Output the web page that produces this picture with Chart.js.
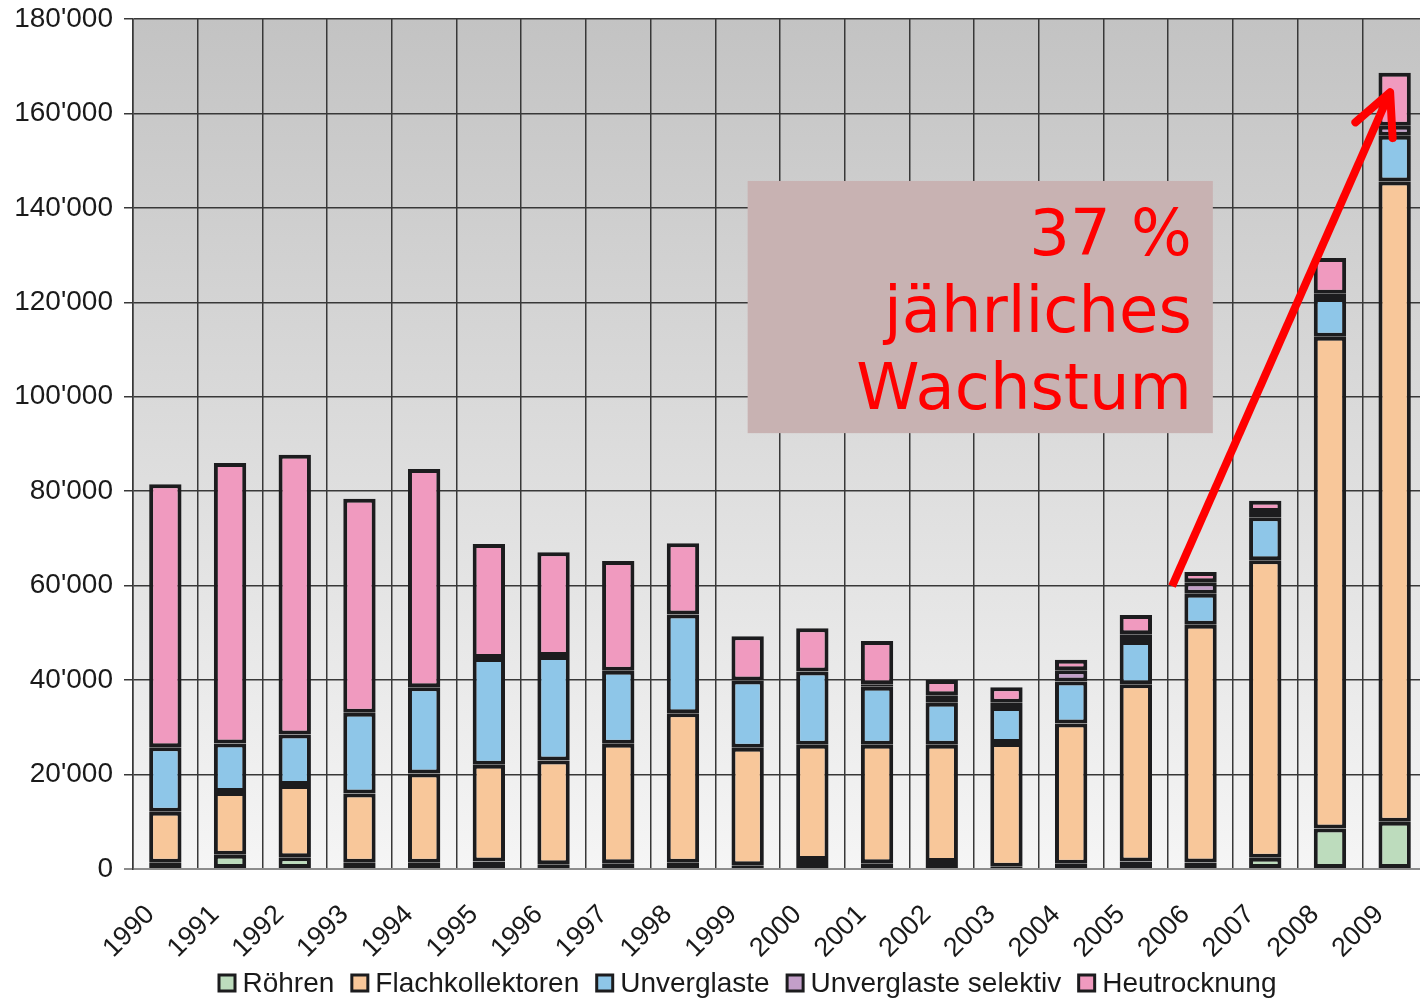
<!DOCTYPE html>
<html>
<head>
<meta charset="utf-8">
<title>Solarkollektoren 1990-2009</title>
<script src="https://cdn.jsdelivr.net/npm/chart.js@4.4.1/dist/chart.umd.min.js"></script>
<style>
  html, body { margin: 0; padding: 0; background: #ffffff; overflow: hidden; }
  #wrap { position: absolute; left: 0; top: 0; width: 1494px; height: 1000px; }
</style>
</head>
<body>
<div id="wrap"><canvas id="chart" width="1494" height="1000"></canvas></div>
<script>
// installierte Fläche pro Jahr (m2), von unten nach oben gestapelt
const years = ['1990', '1991', '1992', '1993', '1994', '1995', '1996', '1997', '1998', '1999',
               '2000', '2001', '2002', '2003', '2004', '2005', '2006', '2007', '2008', '2009'];
const roehren     = [1300, 3000, 2500, 1300, 1300, 1600, 1000, 1200, 1300, 800,
                     1900, 1200, 1500, 500, 1100, 1600, 1400, 2400, 8600, 10000];
const flach       = [10800, 13300, 15300, 14700, 18900, 20500, 22000, 25300, 31700, 24900,
                     24400, 25100, 24800, 26200, 29700, 37500, 50300, 63000, 104100, 135600];
const unverglaste = [13700, 10300, 10700, 17100, 18300, 22600, 22100, 15500, 20900, 14200,
                     15500, 12300, 8900, 7600, 8900, 9200, 6600, 9100, 8200, 9700];
const selektiv    = [0, 0, 0, 0, 0, 0, 0, 0, 0, 0,
                     0, 500, 1600, 900, 2400, 1400, 2400, 1100, 900, 2100];
const heu         = [55700, 59400, 59200, 45300, 46200, 24100, 22000, 23200, 15100, 9400,
                     9200, 9200, 3200, 3300, 2200, 4100, 2200, 2400, 7600, 11200];

const seriesNames = ['Röhren', 'Flachkollektoren', 'Unverglaste', 'Unverglaste selektiv', 'Heutrocknung'];
const seriesColors = ['#bddcbd', '#f8c79a', '#8ec6e8', '#c39fc9', '#f09abf'];

const yMax = 180000;
const yStep = 20000;

// Pfeil und Textbox (Kategorie-Index, Wert)
const arrowFrom = [15.56, 59900];
const arrowTo = [18.93, 164500];
const boxFrom = [9.0, 145700];
const boxTo = [16.19, 92300];
const boxLines = ['37 %', 'jährliches', 'Wachstum'];

const BORDER = '#1c1c1e';
const GRID = '#383838';

function fmt(v) {
    return String(v).replace(/\B(?=(\d{3})+(?!\d))/g, "'");
}

// Hintergrund der Plotfläche: Verlauf grau -> fast weiss
const bgPlugin = {
    id: 'plotBg',
    beforeDraw(chart) {
        const { ctx, chartArea: a } = chart;
        ctx.save();
        ctx.fillStyle = '#ffffff';
        ctx.fillRect(0, 0, chart.width, chart.height);
        const g = ctx.createLinearGradient(0, a.top, 0, a.bottom);
        g.addColorStop(0, '#c3c3c3');
        g.addColorStop(1, '#f5f5f5');
        ctx.fillStyle = g;
        ctx.fillRect(a.left, a.top, a.right - a.left, a.bottom - a.top);
        ctx.restore();
    }
};

// Textbox und roter Pfeil
const notePlugin = {
    id: 'note',
    afterDatasetsDraw(chart) {
        const { ctx, scales: { x, y } } = chart;
        ctx.save();

        const bx0 = x.getPixelForValue(boxFrom[0]);
        const by0 = y.getPixelForValue(boxFrom[1]);
        const bx1 = x.getPixelForValue(boxTo[0]);
        const by1 = y.getPixelForValue(boxTo[1]);
        ctx.fillStyle = '#c8b2b2';
        ctx.fillRect(bx0, by0, bx1 - bx0, by1 - by0);

        ctx.fillStyle = '#ff0000';
        ctx.font = '64px "DejaVu Sans", sans-serif';
        ctx.textAlign = 'right';
        ctx.textBaseline = 'alphabetic';
        boxLines.forEach((t, i) => {
            ctx.fillText(t, bx1 - 21, by0 + 74 + i * 77);
        });

        const ax0 = x.getPixelForValue(arrowFrom[0]);
        const ay0 = y.getPixelForValue(arrowFrom[1]);
        const ax1 = x.getPixelForValue(arrowTo[0]);
        const ay1 = y.getPixelForValue(arrowTo[1]);
        ctx.strokeStyle = '#ff0000';
        ctx.lineWidth = 8;
        ctx.lineCap = 'butt';
        ctx.beginPath();
        ctx.moveTo(ax0, ay0);
        ctx.lineTo(ax1, ay1);
        ctx.stroke();

        // Pfeilspitze
        const ang = Math.atan2(ay0 - ay1, ax0 - ax1);
        const len = 46;
        ctx.lineCap = 'round';
        ctx.lineJoin = 'round';
        ctx.beginPath();
        ctx.moveTo(ax1 + len * Math.cos(ang + 0.44), ay1 + len * Math.sin(ang + 0.44));
        ctx.lineTo(ax1, ay1);
        ctx.lineTo(ax1 + len * Math.cos(ang - 0.47), ay1 + len * Math.sin(ang - 0.47));
        ctx.stroke();
        ctx.restore();
    }
};

// eigene Legende unten
const legendPlugin = {
    id: 'bottomLegend',
    afterDraw(chart) {
        const ctx = chart.ctx;
        ctx.save();
        ctx.font = '28px "Liberation Sans", Arial, sans-serif';
        const box = 19, gapText = 6, gapItem = 16;
        const items = chart.data.datasets.map(ds => ({
            label: ds.label,
            color: ds.backgroundColor,
            w: box + gapText + ctx.measureText(ds.label).width
        }));
        const total = items.reduce((s, it) => s + it.w, 0) + gapItem * (items.length - 1);
        let cx = chart.width / 2 - total / 2;
        const cy = 983;
        ctx.textBaseline = 'middle';
        ctx.textAlign = 'left';
        items.forEach(it => {
            ctx.fillStyle = BORDER;
            ctx.fillRect(cx, cy - box / 2, box, box);
            ctx.fillStyle = it.color;
            ctx.fillRect(cx + 3, cy - box / 2 + 3, box - 6, box - 6);
            ctx.fillStyle = '#1a1a1a';
            ctx.fillText(it.label, cx + box + gapText, cy + 1);
            cx += it.w + gapItem;
        });
        ctx.restore();
    }
};

const seriesData = [roehren, flach, unverglaste, selektiv, heu];
const datasets = seriesNames.map((name, i) => ({
    label: name,
    data: seriesData[i],
    backgroundColor: seriesColors[i],
    borderColor: BORDER,
    borderWidth: 4,
    borderSkipped: false,
    inflateAmount: 0,
    categoryPercentage: 1.0,
    barPercentage: 0.5
}));

new Chart(document.getElementById('chart'), {
    type: 'bar',
    data: { labels: years, datasets: datasets },
    plugins: [bgPlugin, notePlugin, legendPlugin],
    options: {
        responsive: false,
        animation: false,
        devicePixelRatio: 1,
        layout: { padding: { top: 19, right: 67, bottom: 36, left: 0 } },
        plugins: {
            legend: { display: false },
            tooltip: { enabled: false }
        },
        scales: {
            x: {
                stacked: true,
                afterFit: (scale) => { scale.height = 95; },
                grid: { color: GRID, lineWidth: 1.5, drawTicks: false, offset: true },
                border: { color: '#8c8c8c', width: 2 },
                ticks: {
                    color: '#1a1a1a',
                    font: { family: '"Liberation Sans", Arial, sans-serif', size: 27 },
                    minRotation: 45,
                    maxRotation: 45,
                    padding: 30,
                    labelOffset: -15,
                    autoSkip: false
                }
            },
            y: {
                stacked: true,
                min: 0,
                max: yMax,
                afterFit: (scale) => {
                    scale.width = 133;
                    scale.paddingTop = 0;
                    scale.paddingBottom = 0;
                },
                grid: {
                    color: (c) => (c.tick && c.tick.value === 0 ? '#8c8c8c' : GRID),
                    lineWidth: (c) => (c.tick && c.tick.value === 0 ? 2 : 1.5),
                    tickLength: 9
                },
                border: { color: GRID, width: 1.5 },
                ticks: {
                    stepSize: yStep,
                    color: '#1a1a1a',
                    font: { family: '"Liberation Sans", Arial, sans-serif', size: 28 },
                    padding: 11,
                    callback: (v) => fmt(v)
                }
            }
        }
    }
});
</script>
</body>
</html>
